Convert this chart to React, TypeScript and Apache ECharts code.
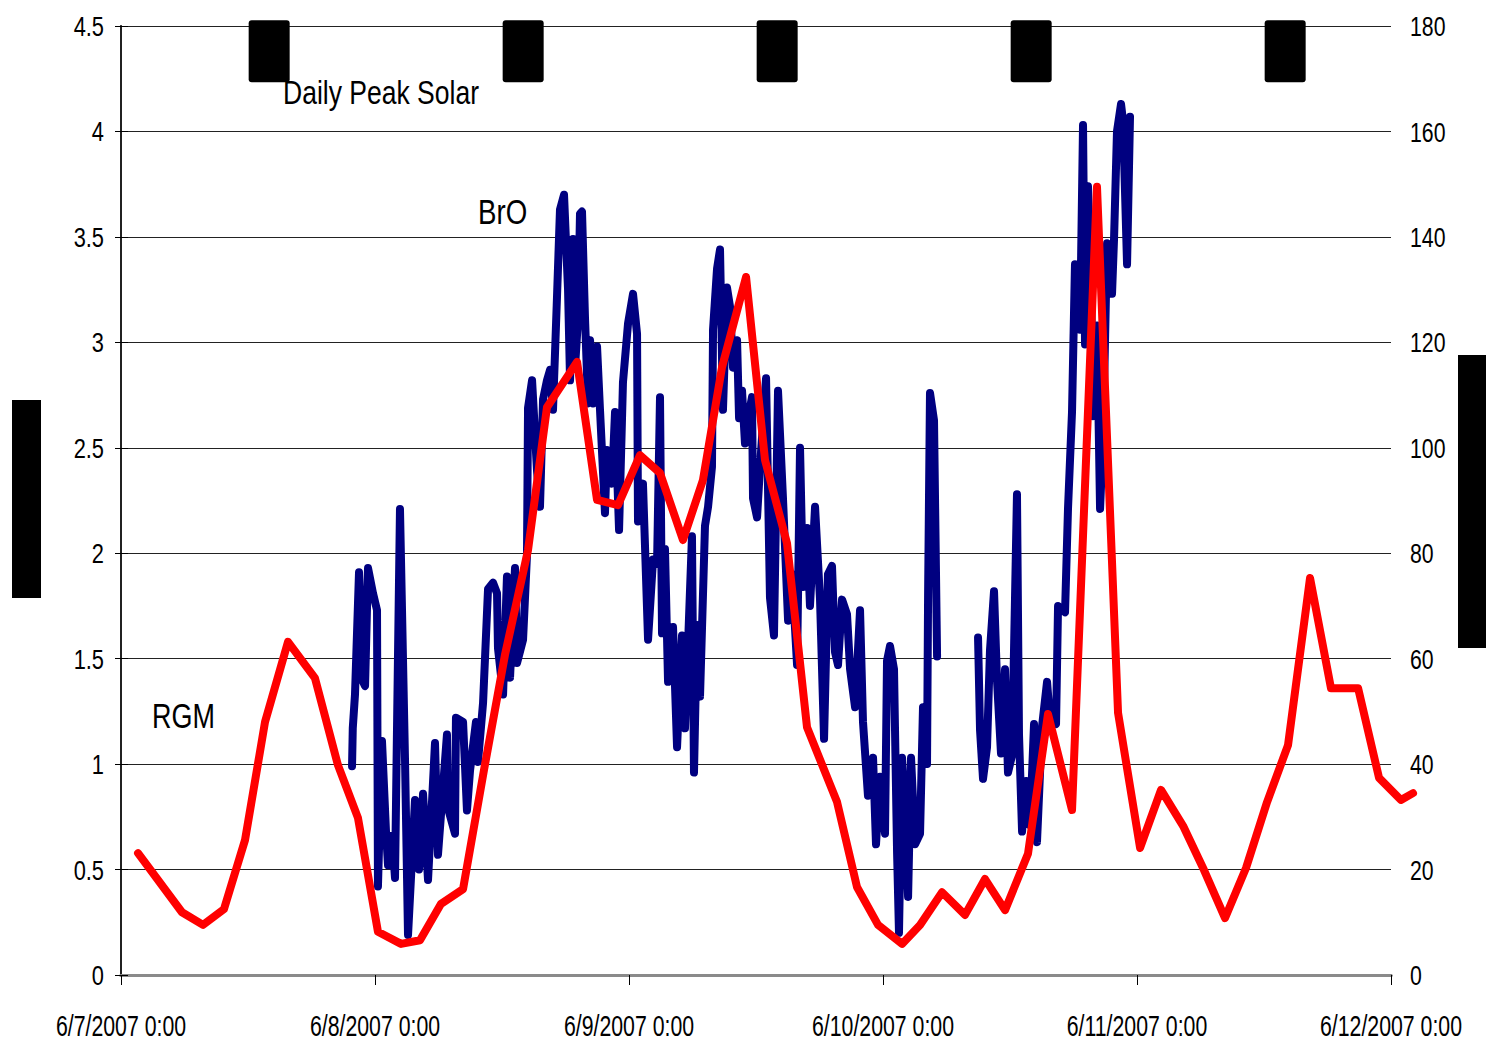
import React, { useEffect, useRef } from 'react';
import * as echarts from 'echarts';

// time in hours since 6/7/2007 0:00
const xTickValues = [0, 24, 48, 72, 96, 120];
const xTickLabels = [
  '6/7/2007 0:00',
  '6/8/2007 0:00',
  '6/9/2007 0:00',
  '6/10/2007 0:00',
  '6/11/2007 0:00',
  '6/12/2007 0:00',
];
const leftTicks = [0, 0.5, 1, 1.5, 2, 2.5, 3, 3.5, 4, 4.5];
const rightTicks = [0, 20, 40, 60, 80, 100, 120, 140, 160, 180];

// BrO (left axis)
const broData: [number, number | string][] = [
  [21.83, 0.99], [21.9, 1.17], [22.11, 1.33], [22.49, 1.91], [22.87, 1.39], [23.06, 1.37], [23.34, 1.93],
  [23.81, 1.81], [24.19, 1.73], [24.28, 0.42], [24.66, 1.11], [25.04, 0.68], [25.23, 0.52], [25.61, 0.66],
  [25.89, 0.46], [26.36, 2.21], [26.84, 1.01], [27.12, 0.19], [27.78, 0.83], [28.16, 0.5], [28.54, 0.86],
  [29.01, 0.45], [29.67, 1.1], [29.95, 0.57], [30.8, 1.14], [30.9, 0.79], [31.56, 0.67], [31.65, 1.22],
  [32.32, 1.2], [32.69, 0.78], [32.98, 0.97], [33.54, 1.2], [33.73, 1.01], [34.21, 1.29], [34.68, 1.83],
  [35.15, 1.86], [35.53, 1.81], [35.62, 1.55], [36.1, 1.33], [36.47, 1.89], [36.76, 1.41], [37.23, 1.93],
  [37.42, 1.48], [37.99, 1.59], [38.36, 1.99], [38.46, 2.69], [38.84, 2.82], [39.31, 2.39], [39.59, 2.22],
  [39.88, 2.73], [40.25, 2.82], [40.54, 2.87], [40.82, 2.68], [41.2, 3.22], [41.48, 3.63], [41.86, 3.7],
  [42.24, 3.25], [42.43, 2.82], [42.71, 3.49], [42.9, 2.88], [43.18, 3.11], [43.37, 3.61], [43.56, 3.62],
  [43.84, 3.12], [44.13, 2.71], [44.32, 3.01], [44.6, 2.71], [44.98, 2.98], [45.26, 2.68], [45.73, 2.19],
  [45.92, 2.49], [46.39, 2.33], [46.68, 2.67], [47.06, 2.11], [47.43, 2.81], [47.91, 3.09], [48.38, 3.23],
  [48.76, 3.04], [48.85, 2.15], [49.32, 2.33], [49.8, 1.59], [50.27, 1.97], [50.65, 1.95], [50.93, 2.74],
  [51.12, 1.62], [51.4, 2.02], [51.69, 1.39], [52.16, 1.65], [52.54, 1.08], [53.01, 1.61], [53.29, 1.17],
  [53.95, 2.08], [54.14, 0.96], [54.43, 1.66], [54.71, 1.32], [55.18, 2.13], [55.47, 2.22], [55.84, 2.41],
  [55.94, 3.06], [56.32, 3.35], [56.6, 3.44], [56.88, 2.68], [57.26, 3.26], [57.54, 3.17], [57.83, 2.88],
  [58.21, 3.01], [58.4, 2.64], [58.68, 2.77], [58.96, 2.52], [59.25, 2.64], [59.62, 2.74], [59.72, 2.26],
  [60.1, 2.17], [60.38, 2.41], [60.95, 2.83], [61.32, 1.79], [61.7, 1.61], [62.08, 2.77], [62.55, 2.26],
  [63.03, 1.68], [63.4, 1.9], [63.88, 1.47], [64.16, 2.5], [64.44, 1.84], [64.82, 2.12], [65.1, 1.75],
  [65.58, 2.22], [66.05, 1.78], [66.43, 1.12], [66.8, 1.9], [67.18, 1.94], [67.47, 1.53], [67.75, 1.47],
  [68.13, 1.78], [68.6, 1.71], [68.89, 1.45], [69.36, 1.27], [69.83, 1.73], [70.11, 1.2], [70.58, 0.85],
  [71.06, 1.03], [71.34, 0.62], [71.72, 0.94], [72.19, 0.67], [72.38, 1.49], [72.66, 1.56], [73.04, 1.45],
  [73.33, 0.58], [73.51, 0.2], [73.8, 1.03], [74.08, 0.76], [74.37, 0.37], [74.65, 1.03], [75.03, 0.62],
  [75.5, 0.67], [75.78, 1.27], [76.16, 1.0], [76.26, 1.8], [76.44, 2.76], [76.82, 2.63], [77.11, 1.51],
  [79, '-'],
  [80.98, 1.6], [81.17, 1.16], [81.45, 0.93], [81.83, 1.08], [82.11, 1.54], [82.49, 1.82], [82.77, 1.4],
  [83.15, 1.05], [83.53, 1.45], [83.81, 0.96], [84.19, 1.04], [84.66, 2.28], [84.85, 1.14], [85.14, 0.68],
  [85.52, 0.92], [85.89, 0.71], [86.27, 1.19], [86.55, 0.63], [87.03, 1.18], [87.5, 1.39], [87.78, 1.21],
  [88.35, 1.19], [88.54, 1.75], [89.2, 1.72], [89.48, 2.21], [89.86, 2.67], [90.14, 3.37], [90.62, 3.06],
  [90.9, 4.03], [91.09, 2.99], [91.37, 3.74], [91.75, 3.03], [91.85, 2.65], [92.22, 3.08], [92.51, 2.21],
  [92.79, 2.55], [93.17, 3.47], [93.64, 3.23], [93.83, 3.49], [94.11, 4.0], [94.49, 4.13], [94.68, 4.05],
  [95.06, 3.37], [95.34, 4.07],
];

// RGM (right axis)
const rgmData: [number, number][] = [
  [1.61, 23.1], [5.76, 11.9], [7.75, 9.5], [9.73, 12.5], [11.72, 25.6], [13.61, 48.0], [15.78, 63.2],
  [18.33, 56.3], [20.5, 39.8], [22.39, 29.8], [24.28, 8.2], [26.46, 5.9], [28.25, 6.6], [30.24, 13.5],
  [32.32, 16.3], [34.3, 38.9], [36.28, 60.7], [38.46, 80.6], [40.25, 107.7], [43.09, 116.3], [44.98, 90.1],
  [46.96, 89.1], [49.04, 98.6], [50.93, 95.2], [53.1, 82.5], [54.99, 93.9], [56.79, 115.3], [59.06, 132.4],
  [60.85, 97.7], [62.93, 81.9], [64.82, 47.0], [67.66, 32.8], [69.54, 16.7], [71.53, 9.5], [73.8, 5.9],
  [75.5, 9.5], [77.58, 15.7], [79.75, 11.4], [81.64, 18.2], [83.53, 12.3], [85.7, 23.0], [87.59, 49.5],
  [89.86, 31.3], [92.22, 149.5], [94.21, 49.7], [96.29, 24.1], [98.27, 35.1], [100.35, 28.3], [102.33, 19.9],
  [104.32, 10.8], [106.3, 20.3], [108.29, 32.8], [110.27, 43.6], [112.35, 75.3], [114.33, 54.4],
  [116.89, 54.4], [118.87, 37.4], [120.94, 33.2], [122.08, 34.5],
];

// Daily peak solar times (hours) and marker level (left axis)
const solarPeakHours = [14, 38, 62, 86, 110];
const solarMarkerLevel = 4.38;

const FONT = "'Liberation Sans', Arial, sans-serif";
const X_MAX = 120;
const X_EXT = 122.5; // hidden axis range for the overhanging RGM line
const PLOT_W = 1270;

const roundRectPath =
  'path://M3,0 H38 Q41,0 41,3 V59 Q41,62 38,62 H3 Q0,62 0,59 V3 Q0,0 3,0 Z';

export default function App() {
  const ref = useRef<HTMLDivElement>(null);

  useEffect(() => {
    if (!ref.current) return;
    const chart = echarts.init(ref.current, null, { renderer: 'svg' });
    const option: any = {
      animation: false,
      backgroundColor: '#ffffff',
      grid: [
        { left: 121, top: 26, width: PLOT_W, height: 949, containLabel: false },
        { left: 121, top: 26, width: (PLOT_W * X_EXT) / X_MAX, height: 949, containLabel: false },
      ],
      xAxis: [
        {
          type: 'value',
          gridIndex: 0,
          min: 0,
          max: X_MAX,
          interval: 24,
          position: 'bottom',
          axisLine: { show: true, lineStyle: { color: '#444', width: 3 } },
          axisTick: { show: true, length: 10, lineStyle: { color: '#000', width: 1 } },
          splitLine: { show: false },
          axisLabel: { show: false },
        },
        {
          type: 'value',
          gridIndex: 0,
          min: 0,
          max: X_MAX,
          position: 'top',
          axisLine: { show: true, lineStyle: { color: '#8a8a8a', width: 3 } },
          axisTick: { show: false },
          axisLabel: { show: false },
          splitLine: { show: false },
        },
        {
          type: 'value',
          gridIndex: 1,
          min: 0,
          max: X_EXT,
          show: false,
        },
      ],
      yAxis: [
        {
          type: 'value',
          gridIndex: 0,
          min: 0,
          max: 4.5,
          interval: 0.5,
          position: 'left',
          axisLine: { show: true, lineStyle: { color: '#222', width: 2 } },
          axisTick: { show: true, length: 6, lineStyle: { color: '#000' } },
          splitLine: { show: true, lineStyle: { color: '#222', width: 1 } },
          axisLabel: { show: false },
        },
        {
          type: 'value',
          gridIndex: 0,
          min: 0,
          max: 180,
          interval: 20,
          position: 'right',
          axisLine: { show: true, lineStyle: { color: '#222', width: 1.5 } },
          axisTick: { show: true, length: 7, lineStyle: { color: '#000' } },
          splitLine: { show: false },
          axisLabel: { show: false },
        },
        {
          type: 'value',
          gridIndex: 1,
          min: 0,
          max: 180,
          show: false,
        },
      ],
      series: [
        {
          name: 'BrO',
          type: 'line',
          xAxisIndex: 0,
          yAxisIndex: 0,
          data: broData,
          showSymbol: false,
          symbol: 'none',
          connectNulls: false,
          lineStyle: { color: '#000080', width: 8, cap: 'round', join: 'round' },
          z: 3,
        },
        {
          name: 'RGM',
          type: 'line',
          xAxisIndex: 2,
          yAxisIndex: 2,
          data: rgmData,
          showSymbol: false,
          symbol: 'none',
          clip: false,
          lineStyle: { color: '#ff0000', width: 8, cap: 'round', join: 'round' },
          z: 4,
        },
        {
          name: 'Daily Peak Solar',
          type: 'scatter',
          xAxisIndex: 0,
          yAxisIndex: 0,
          data: solarPeakHours.map((h) => [h, solarMarkerLevel]),
          symbol: roundRectPath,
          symbolSize: [41, 62],
          clip: false,
          itemStyle: { color: '#000', opacity: 1 },
          emphasis: { disabled: true },
          z: 5,
        },
      ],
    };
    chart.setOption(option);

    // axis labels as condensed text, positioned through the axes' own scales
    const texts: any[] = [];
    xTickValues.forEach((v, i) => {
      const px = chart.convertToPixel({ xAxisIndex: 0 }, v) as number;
      texts.push({
        type: 'text', x: px, y: 1026, scaleX: 0.71,
        style: { text: xTickLabels[i], font: `30px ${FONT}`, fill: '#000', align: 'center', verticalAlign: 'middle' },
      });
    });
    leftTicks.forEach((v) => {
      const py = chart.convertToPixel({ yAxisIndex: 0 }, v) as number;
      texts.push({
        type: 'text', x: 104, y: py, scaleX: 0.78,
        style: { text: String(v), font: `28px ${FONT}`, fill: '#000', align: 'right', verticalAlign: 'middle' },
      });
    });
    rightTicks.forEach((v) => {
      const py = chart.convertToPixel({ yAxisIndex: 1 }, v) as number;
      texts.push({
        type: 'text', x: 1410, y: py, scaleX: 0.76,
        style: { text: String(v), font: `28px ${FONT}`, fill: '#000', align: 'left', verticalAlign: 'middle' },
      });
    });

    chart.setOption({
      graphic: [
        { type: 'rect', x: 12, y: 400, shape: { width: 29, height: 198 }, style: { fill: '#000' } },
        { type: 'rect', x: 1458, y: 355, shape: { width: 28, height: 293 }, style: { fill: '#000' } },
        {
          type: 'text', x: 283, y: 92, scaleX: 0.78,
          style: { text: 'Daily Peak Solar', font: `34px ${FONT}`, fill: '#000', align: 'left', verticalAlign: 'middle' },
        },
        {
          type: 'text', x: 478, y: 212, scaleX: 0.79,
          style: { text: 'BrO', font: `35px ${FONT}`, fill: '#000', align: 'left', verticalAlign: 'middle' },
        },
        {
          type: 'text', x: 152, y: 716, scaleX: 0.77,
          style: { text: 'RGM', font: `35px ${FONT}`, fill: '#000', align: 'left', verticalAlign: 'middle' },
        },
        ...texts,
      ],
    });
    return () => chart.dispose();
  }, []);

  return (
    <div
      ref={ref}
      style={{ position: 'fixed', left: 0, top: 0, width: 1486, height: 1045, background: '#fff' }}
    />
  );
}
